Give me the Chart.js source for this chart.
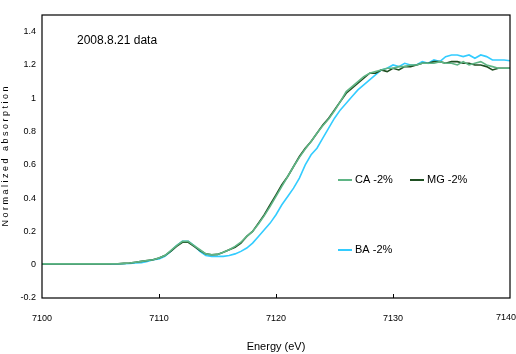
<!DOCTYPE html>
<html>
<head>
<meta charset="utf-8">
<script src="https://cdn.jsdelivr.net/npm/chart.js@4"></script>
<style>
  html, body { margin: 0; padding: 0; background: #fff; }
  #wrap { width: 516px; height: 354px; position: relative; }
</style>
</head>
<body>
<div id="wrap"><canvas id="myChart"></canvas></div>
<script>
// energy axis, 0.5 eV steps
var energy = [];
for (var e = 7100; e <= 7140; e += 0.5) energy.push(e);

var caValues = [
  0.005, 0.005, 0.005, 0.005, 0.005, 0.005, 0.005, 0.005, 0.005, 0.005,
  0.005, 0.005, 0.006, 0.006, 0.008, 0.01, 0.015, 0.02, 0.025, 0.03,
  0.04, 0.055, 0.085, 0.115, 0.14, 0.14, 0.115, 0.09, 0.065, 0.06,
  0.062, 0.075, 0.09, 0.11, 0.135, 0.17, 0.2, 0.245, 0.295, 0.35,
  0.41, 0.47, 0.53, 0.59, 0.645, 0.695, 0.74, 0.79, 0.835, 0.875,
  0.925, 0.98, 1.04, 1.07, 1.1, 1.13, 1.15, 1.16, 1.17, 1.18,
  1.18, 1.19, 1.19, 1.2, 1.2, 1.21, 1.21, 1.21, 1.22, 1.21,
  1.21, 1.2, 1.22, 1.2, 1.21, 1.22, 1.2, 1.19, 1.18, 1.18, 1.18
];
var mgValues = [
  0.005, 0.005, 0.005, 0.005, 0.005, 0.005, 0.005, 0.005, 0.005, 0.005,
  0.005, 0.005, 0.006, 0.006, 0.008, 0.01, 0.015, 0.02, 0.025, 0.03,
  0.04, 0.055, 0.08, 0.11, 0.135, 0.135, 0.11, 0.085, 0.065, 0.06,
  0.062, 0.075, 0.09, 0.105, 0.13, 0.17, 0.2, 0.25, 0.3, 0.36,
  0.42, 0.48, 0.53, 0.59, 0.65, 0.7, 0.74, 0.79, 0.84, 0.88,
  0.93, 0.98, 1.03, 1.06, 1.09, 1.12, 1.15, 1.15, 1.17, 1.16,
  1.18, 1.17, 1.19, 1.19, 1.2, 1.21, 1.21, 1.22, 1.22, 1.21,
  1.22, 1.22, 1.21, 1.21, 1.2, 1.2, 1.19, 1.17, 1.18, 1.18, 1.18
];
var baValues = [
  0.005, 0.005, 0.005, 0.005, 0.005, 0.005, 0.005, 0.005, 0.005, 0.005,
  0.005, 0.005, 0.005, 0.005, 0.006, 0.007, 0.01, 0.012, 0.02, 0.03,
  0.035, 0.05, 0.08, 0.115, 0.14, 0.14, 0.115, 0.08, 0.055, 0.05,
  0.05, 0.05, 0.055, 0.065, 0.08, 0.1, 0.13, 0.17, 0.21, 0.25,
  0.3, 0.36, 0.41, 0.46, 0.52, 0.6, 0.66, 0.7, 0.76, 0.82,
  0.88, 0.93, 0.97, 1.01, 1.05, 1.08, 1.11, 1.14, 1.17, 1.18,
  1.2, 1.19, 1.21, 1.2, 1.2, 1.22, 1.21, 1.23, 1.22, 1.25,
  1.26, 1.26, 1.25, 1.26, 1.24, 1.26, 1.25, 1.23, 1.23, 1.23, 1.225
];

var xTicks = [7100, 7110, 7120, 7130, 7140];
var yTicks = [-0.2, 0, 0.2, 0.4, 0.6, 0.8, 1, 1.2, 1.4];

var seriesNames = ['CA -2%', 'MG -2%', 'BA -2%'];
var seriesColors = ['#5fb585', '#1f4f22', '#33ccff'];

var FONT = "'Liberation Sans Narrow', 'Liberation Sans', Arial, sans-serif";

function toPoints(vals) {
  return vals.map(function (v, i) { return { x: energy[i], y: v }; });
}

// box, inner x ticks, last x label, title text and legend
var extras = {
  id: 'extras',
  afterDraw: function (chart) {
    var c = chart.ctx, a = chart.chartArea;
    var xs = chart.scales.x;
    c.save();
    c.strokeStyle = '#000';
    c.lineWidth = 1.2;
    c.strokeRect(a.left, a.top, a.right - a.left, a.bottom - a.top);
    c.lineWidth = 1;
    xTicks.slice(1, -1).forEach(function (v) {
      var px = Math.round(xs.getPixelForValue(v)) + 0.5;
      c.beginPath();
      c.moveTo(px, a.bottom);
      c.lineTo(px, a.bottom - 4);
      c.stroke();
    });

    // last x label would be clipped by the canvas edge
    c.fillStyle = '#000';
    c.font = '9px ' + FONT;
    c.textAlign = 'right';
    c.textBaseline = 'middle';
    c.fillText(String(xTicks[xTicks.length - 1]), 516, a.bottom + 20);
    c.textAlign = 'left';

    c.font = '12px ' + FONT;
    c.fillText('2008.8.21 data', 77, 41);

    // legend
    var spots = [[338, 180], [410, 180], [338, 250]];
    c.font = '11px ' + FONT;
    chart.data.datasets.forEach(function (ds, i) {
      var p = spots[i];
      c.strokeStyle = ds.borderColor;
      c.lineWidth = 2;
      c.beginPath();
      c.moveTo(p[0], p[1]);
      c.lineTo(p[0] + 14, p[1]);
      c.stroke();
      c.fillStyle = '#000';
      c.fillText(ds.label, p[0] + 17, p[1]);
    });
    c.restore();
  }
};

const ctx = document.getElementById('myChart');
const myChart = new Chart(ctx, {
  type: 'line',
  data: {
    datasets: seriesNames.map(function (name, i) {
      return {
        label: name,
        data: toPoints([caValues, mgValues, baValues][i]),
        borderColor: seriesColors[i],
        borderWidth: 1.6,
        pointRadius: 0,
        tension: 0,
        fill: false
      };
    })
  },
  options: {
    responsive: true,
    maintainAspectRatio: false,
    animation: false,
    layout: { padding: { top: 15, right: 6, left: 0, bottom: 0 } },
    scales: {
      x: {
        type: 'linear',
        min: 7100,
        max: 7140,
        afterBuildTicks: function (s) { s.ticks = xTicks.map(function (v) { return { value: v }; }); },
        afterFit: function (s) {
          s.height = 56;
          s.paddingLeft = 0;
          s.paddingRight = 0;
        },
        grid: { display: false, drawTicks: false },
        border: { display: false },
        ticks: {
          padding: 15,
          color: '#000',
          maxRotation: 0,
          font: { family: FONT, size: 9 },
          callback: function (v) { return v === 7140 ? '' : String(v); }
        },
        title: {
          display: true,
          text: 'Energy (eV)',
          color: '#000',
          font: { family: FONT, size: 11 },
          padding: { top: 14, bottom: 0 }
        }
      },
      y: {
        min: -0.2,
        max: 1.5,
        afterBuildTicks: function (s) { s.ticks = yTicks.map(function (v) { return { value: v }; }); },
        afterFit: function (s) {
          s.width = 42;
          s.paddingTop = 0;
          s.paddingBottom = 0;
        },
        grid: { display: false, drawTicks: false },
        border: { display: false },
        ticks: {
          padding: 6,
          color: '#000',
          font: { family: FONT, size: 9 },
          callback: function (v) { return String(Math.round(v * 10) / 10); }
        },
        title: {
          display: true,
          text: 'N o r m a l i z e d   a b s o r p t i o n',
          color: '#000',
          font: { family: FONT, size: 9 },
          padding: { top: 0, bottom: 0 }
        }
      }
    },
    plugins: {
      legend: { display: false },
      tooltip: { enabled: false }
    }
  },
  plugins: [extras]
});
</script>
</body>
</html>
